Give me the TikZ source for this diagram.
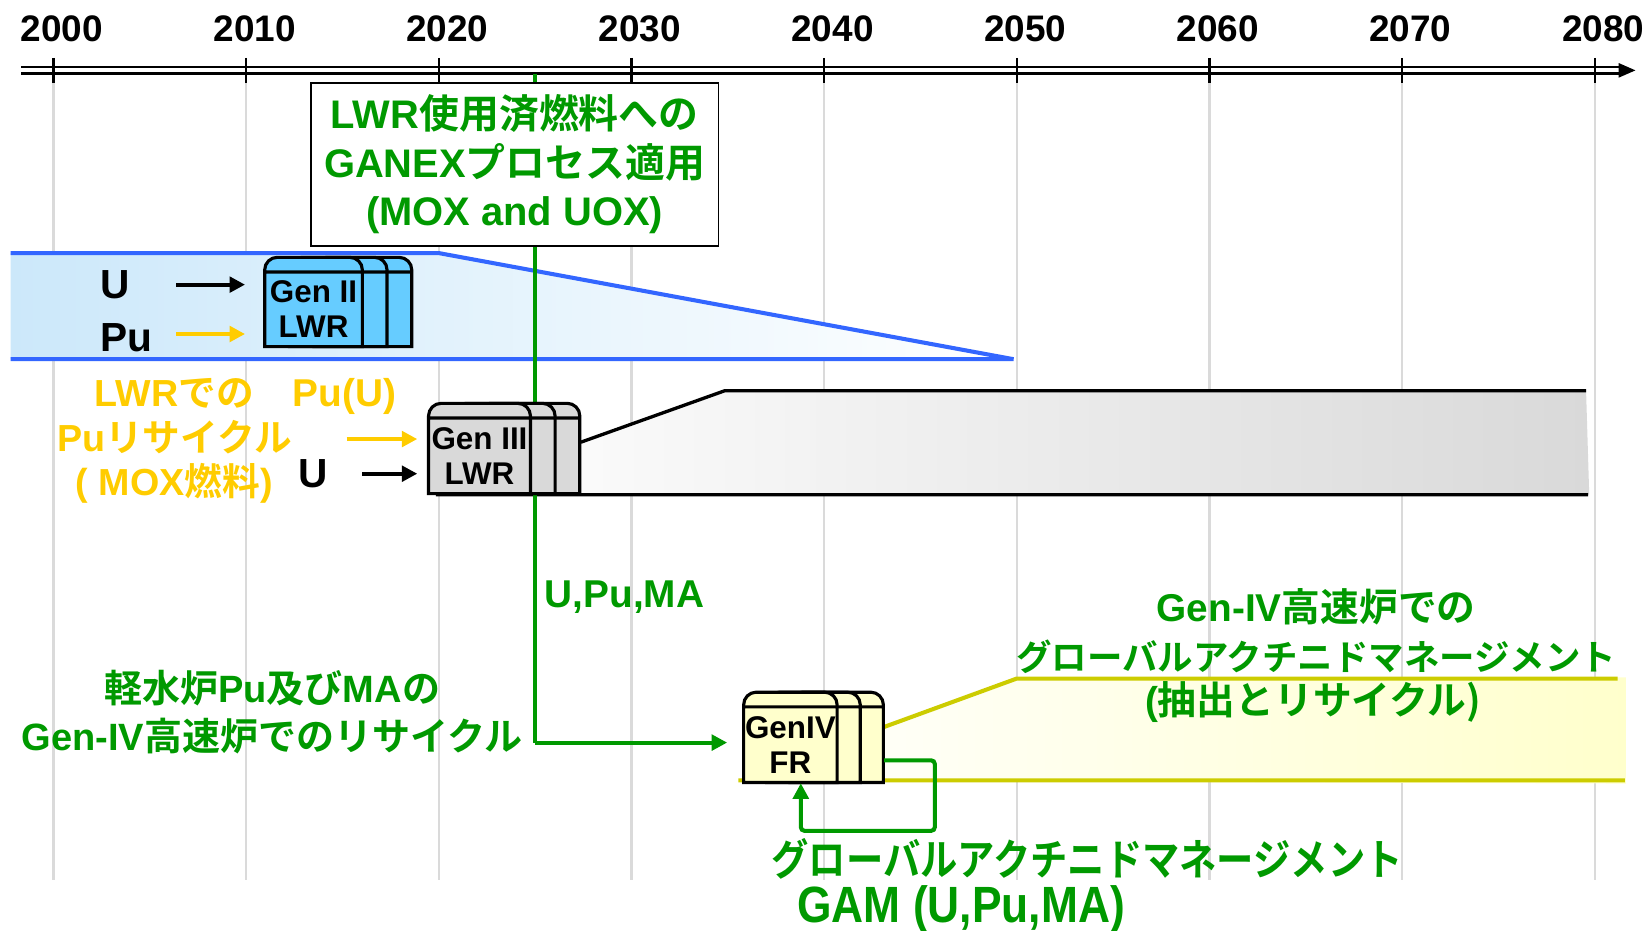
\documentclass[tikz,border=0pt]{standalone}
\usepackage{fontspec}
\setmainfont{Liberation Sans}
\newfontfamily\jpfont{Noto Sans CJK JP}[BoldFont={Noto Sans CJK JP Bold}]
\newcommand{\ja}[1]{{\jpfont #1}}
\usetikzlibrary{arrows.meta,calc,fit}

\definecolor{gamgreen}{RGB}{0,153,0}
\definecolor{moxgold}{RGB}{255,204,0}
\definecolor{lwrblue}{RGB}{51,102,255}
\definecolor{genblue}{RGB}{102,204,255}
\definecolor{paleblue}{RGB}{204,232,250}
\definecolor{gengray}{RGB}{217,217,217}
\definecolor{genyellow}{RGB}{255,255,204}
\definecolor{fryellow}{RGB}{204,204,0}
\definecolor{gridgray}{RGB}{218,218,218}

\tikzset{
  year/.style={font=\bfseries\fontsize{10}{12}\selectfont, inner sep=0},
  tag/.style={font=\bfseries\fontsize{10.5}{12.8}\selectfont, align=center, inner sep=0},
  boxtext/.style={font=\bfseries\fontsize{8.5}{9.4}\selectfont, align=center, inner sep=0},
  tip/.style={-{Triangle[length=4.2pt,width=4.2pt]}},
  karrow/.style={tip, line width=1.1pt},
  garrow/.style={tip, line width=1.1pt, moxgold},
  gflow/.style={tip, line width=1.1pt, gamgreen},
}

% stacked reactor: name, left, front right, step, top, bottom, fill, text
\newcommand{\reactor}[8]{%
  \foreach \s in {2,1,0}{
    \draw[line width=0.85pt, fill=#7]
      ({#2+\s*#4},-#6) -- ({#2+\s*#4},{-#5-12})
      arc[start angle=180,end angle=90,radius=12]
      -- ({#3+\s*#4-12},-#5) arc[start angle=90,end angle=0,radius=12]
      -- ({#3+\s*#4},-#6) -- cycle
      ({#2+\s*#4},{-#5-14}) -- ({#3+\s*#4},{-#5-14});
  }
  \node[inner sep=0, fit={(#2,-#5) ({#3+2*#4},-#6)}] (#1) {};
  \node[boxtext] (#1-txt) at ({(#2+#3)/2},{-(#5+14+#6)/2}) {#8};
}

\begin{document}
\begin{tikzpicture}[x=0.01cm,y=0.01cm]
  \useasboundingbox (0,0) rectangle (1568,-886);

  % time axis
  \foreach \yr [evaluate=\yr as \tx using {51+18.34*(\yr-2000)}] in {2000,2010,...,2080}{
    \draw[gridgray, line width=0.6pt] (\tx,-72) -- (\tx,-838);
    \draw[line width=0.6pt] (\tx,-55) -- (\tx,-79);
    \node[year] (y\yr) at (\tx+8,-27) {\yr};
  }
  \draw[line width=0.6pt] (20,-64) -- (1545,-64) (20,-70) -- (1545,-70);
  \fill (1557,-67) -- (1541,-60) -- (1541,-74) -- cycle;

  % bands
  \shade[left color=paleblue, right color=white] (10,-241) -- (418,-241) -- (965,-342) -- (10,-342) -- cycle;
  \draw[lwrblue, line width=1.1pt] (10,-241) -- (418,-241) -- (965,-342) (10,-342) -- (965,-342);
  \shade[left color=white, right color=gengray] (415,-421) -- (553,-421) -- (690,-372) -- (1510,-372) -- (1513,-471) -- (415,-471) -- cycle;
  \draw[line width=0.9pt] (553,-421) -- (690,-372) -- (1510,-372) (415,-471) -- (1512,-471);
  \shade[left color=white, right color=genyellow] (705,-743) -- (705,-700) -- (842,-692) -- (968,-646) -- (1548,-645) -- (1548,-746) -- cycle;
  \draw[fryellow, line width=1.1pt] (842,-692) -- (968,-646) -- (1540,-646) (703,-743) -- (1547,-743);

  % GANEX stream
  \coordinate (gsrc) at (509,-70);
  \coordinate (gturn) at (509,-707);
  \draw[gamgreen, line width=1.1pt] (gsrc) -- (gturn);
  \node[draw, line width=0.4pt, fill=white, minimum width=3.88cm, minimum height=1.55cm,
        text=gamgreen, tag, font=\bfseries\fontsize{10.8}{13.1}\selectfont] (ganex) at (490,-156.5)
    {LWR\ja{使用済燃料への}\\GANEX\ja{プロセス適用}\\(MOX and UOX)};

  % reactors
  \reactor{gen2}{252}{345}{23.5}{245}{330}{genblue}{Gen II\\LWR}
  \reactor{gen3}{408}{505}{23.5}{384}{470}{gengray}{Gen III\\LWR}
  \reactor{gen4}{708}{797}{22}{659}{745}{genyellow}{GenIV\\FR}

  % Gen II feed
  \node[tag, font=\bfseries\fontsize{11}{13}\selectfont] (u2) at (110,-271) {U};
  \node[tag, font=\bfseries\fontsize{11}{13}\selectfont] (pu2) at (120,-322) {Pu};
  \coordinate (u2tail) at (168,-271);
  \coordinate (pu2tail) at (168,-318);
  \draw[karrow, shorten >=0.18cm] (u2tail) -- (gen2.west |- u2tail);
  \draw[garrow, shorten >=0.18cm] (pu2tail) -- (gen2.west |- pu2tail);

  % Gen III feed
  \node[tag, text=moxgold, font=\bfseries\fontsize{10.2}{12}\selectfont] (moxcycle) at (166,-420)
    {LWR\ja{での}\\Pu\ja{リサイクル}\\( MOX\ja{燃料})};
  \node[tag, text=moxgold] (puu) at (328,-377) {Pu(U)};
  \node[tag, font=\bfseries\fontsize{11}{13}\selectfont] (u3) at (298,-451) {U};
  \coordinate (pu3tail) at (330,-418);
  \coordinate (u3tail) at (345,-451);
  \draw[garrow, shorten >=0.1cm] (pu3tail) -- (gen3.west |- pu3tail);
  \draw[karrow, shorten >=0.1cm] (u3tail) -- (gen3.west |- u3tail);

  % Gen IV feed and recycle
  \draw[gflow, shorten >=0.15cm] (gturn) -- (gen4.west |- gturn);
  \coordinate (gamturn) at (890,-791);
  \draw[gflow, rounded corners=1pt] ($(gen4.east)!.5!(gen4.south east)$) -| (gamturn)
    -| ($(gen4.south west)!.41!(gen4.south east)$);

  % green labels
  \node[tag, text=gamgreen, anchor=west] (upuma) at (518,-569) {U,Pu,MA};
  \node[tag, text=gamgreen, font=\bfseries\fontsize{10.3}{12.8}\selectfont] (lwrma) at (259,-678)
    {\ja{軽水炉}Pu\ja{及び}MA\ja{の}\\Gen-IV\ja{高速炉でのリサイクル}};
  \node[tag, text=gamgreen] (frgam) at (1253,-578) {Gen-IV\ja{高速炉での}};
  \node[tag, text=gamgreen, font=\bfseries\fontsize{9.6}{12}\selectfont] (frgamjp) at (1253,-625)
    {\ja{グローバルアクチニドマネージメント}};
  \node[tag, text=gamgreen] (frcycle) at (1250,-668) {(\ja{抽出とリサイクル)}};
  \node[tag, text=gamgreen, font=\bfseries\fontsize{10.1}{12}\selectfont] (gamjp) at (1035,-818)
    {\scalebox{1}[1.15]{\ja{グローバルアクチニドマネージメント}}};
  \node[tag, text=gamgreen, font=\bfseries\fontsize{12}{14}\selectfont] (gamen) at (915,-866)
    {\scalebox{1}[1.15]{GAM (U,Pu,MA)}};
\end{tikzpicture}
\end{document}
